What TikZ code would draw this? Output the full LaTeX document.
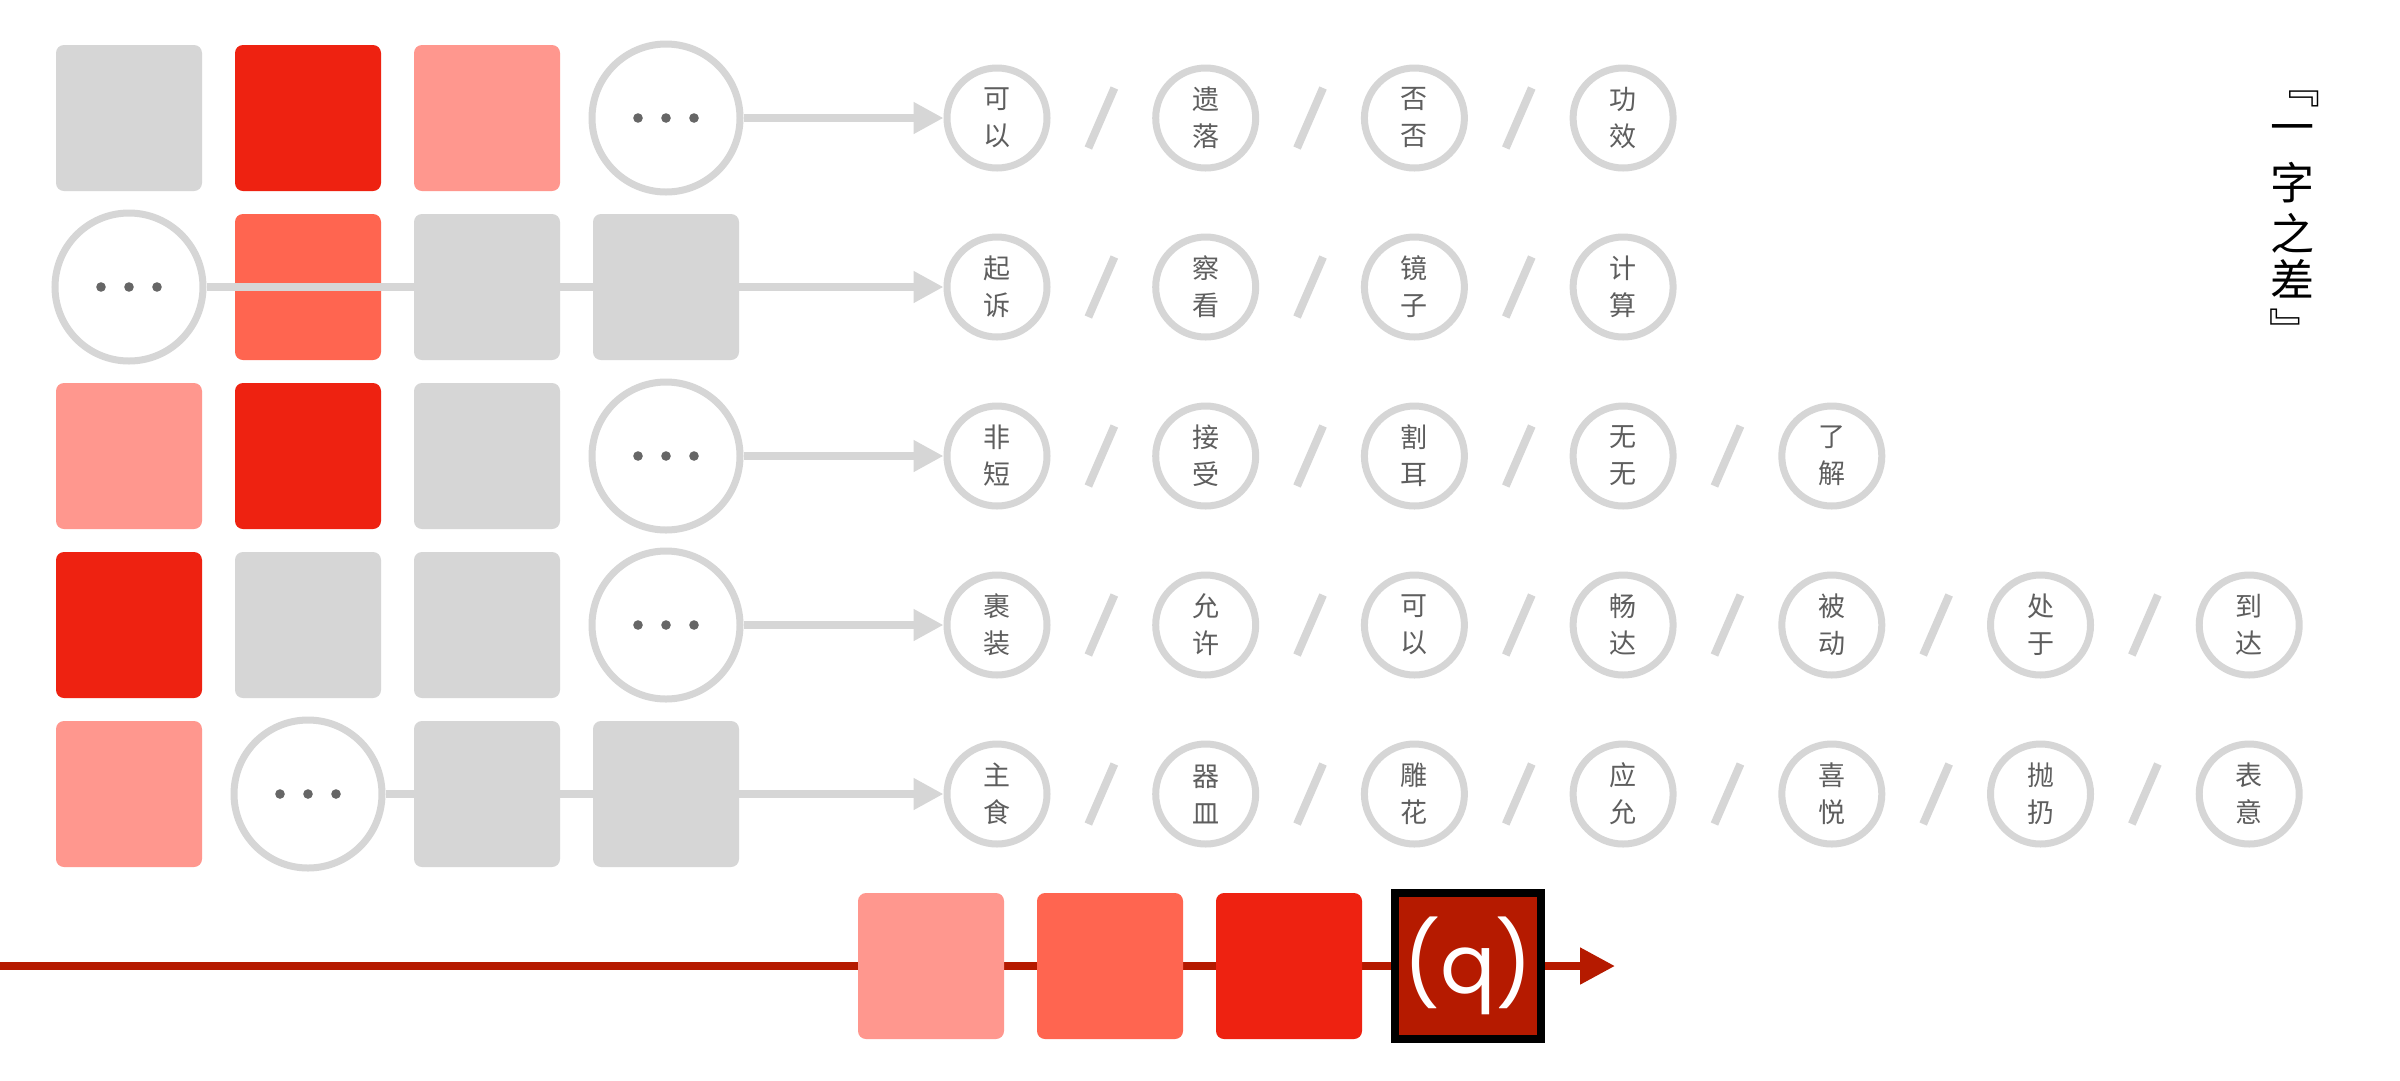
\documentclass[tikz,border=0pt]{standalone}
\usepackage{fontspec}
\newfontfamily\cjk{Noto Sans CJK SC}
\newfontfamily\qfont{Poppins}
\usetikzlibrary{arrows.meta}
\definecolor{lg}{HTML}{D6D6D6}
\definecolor{rd}{HTML}{EE2211}
\definecolor{pk}{HTML}{FF978E}
\definecolor{cr}{HTML}{FF6550}
\definecolor{dk}{HTML}{B51A00}
\definecolor{tg}{HTML}{5E5E5E}
\definecolor{dg}{HTML}{666666}
\begin{document}
\begin{tikzpicture}[x=1pt,y=-1pt,
  sqbox/.style={rectangle, rounded corners=8pt, minimum size=146pt, inner sep=0pt},
  gbox/.style={sqbox, fill=lg},
  rbox/.style={sqbox, fill=rd},
  pbox/.style={sqbox, fill=pk},
  cbox/.style={sqbox, fill=cr},
  dotcirc/.style={circle, draw=lg, line width=7pt, fill=white, minimum size=148pt, inner sep=0pt,
    path picture={\fill[dg] (path picture bounding box.center) ++(-28pt,0pt) circle (4.8pt) ++(28pt,0pt) circle (4.8pt) ++(28pt,0pt) circle (4.8pt);}},
  wcirc/.style={circle, draw=lg, line width=7pt, fill=white, minimum size=100pt, inner sep=0pt,
    font=\cjk\fontsize{27}{37}\selectfont, text=tg, align=center},
  flow/.style={draw=lg, line width=8pt, -{Triangle[length=30pt,width=30pt]}},
  slashline/.style={draw=lg, line width=8pt},
  titlech/.style={font=\cjk\fontsize{44}{44}\selectfont, text=black, inner sep=0pt},
]
\fill[white] (0,0) rectangle (2400,1080);
\useasboundingbox (0,0) rectangle (2400,1080);

% ---------- row 1 ----------
\node[gbox] (s11) at (129,118) {};
\node[rbox] (s12) at (308,118) {};
\node[pbox] (s13) at (487,118) {};
\node[dotcirc] (c14) at (666,118) {};
\foreach \w [count=\i from 0] in {{可\\以},{遗\\落},{否\\否},{功\\效}}
  \node[wcirc] (w1-\i) at ({997+208.7*\i},118) {\w};
\foreach \i in {1,...,3}
  \draw[slashline] ({997+208.7*\i-104.35+13},88) -- ++(-26,60);
\draw[flow] (c14) -- (w1-0);

% ---------- row 2 ----------
\node[dotcirc] (c21) at (129,287) {};
\node[cbox] (s22) at (308,287) {};
\node[gbox] (s23) at (487,287) {};
\node[gbox] (s24) at (666,287) {};
\foreach \w [count=\i from 0] in {{起\\诉},{察\\看},{镜\\子},{计\\算}}
  \node[wcirc] (w2-\i) at ({997+208.7*\i},287) {\w};
\foreach \i in {1,...,3}
  \draw[slashline] ({997+208.7*\i-104.35+13},257) -- ++(-26,60);
\draw[flow] (c21) -- (w2-0);

% ---------- row 3 ----------
\node[pbox] (s31) at (129,456) {};
\node[rbox] (s32) at (308,456) {};
\node[gbox] (s33) at (487,456) {};
\node[dotcirc] (c34) at (666,456) {};
\foreach \w [count=\i from 0] in {{非\\短},{接\\受},{割\\耳},{无\\无},{了\\解}}
  \node[wcirc] (w3-\i) at ({997+208.7*\i},456) {\w};
\foreach \i in {1,...,4}
  \draw[slashline] ({997+208.7*\i-104.35+13},426) -- ++(-26,60);
\draw[flow] (c34) -- (w3-0);

% ---------- row 4 ----------
\node[rbox] (s41) at (129,625) {};
\node[gbox] (s42) at (308,625) {};
\node[gbox] (s43) at (487,625) {};
\node[dotcirc] (c44) at (666,625) {};
\foreach \w [count=\i from 0] in {{裹\\装},{允\\许},{可\\以},{畅\\达},{被\\动},{处\\于},{到\\达}}
  \node[wcirc] (w4-\i) at ({997+208.7*\i},625) {\w};
\foreach \i in {1,...,6}
  \draw[slashline] ({997+208.7*\i-104.35+13},595) -- ++(-26,60);
\draw[flow] (c44) -- (w4-0);

% ---------- row 5 ----------
\node[pbox] (s51) at (129,794) {};
\node[dotcirc] (c52) at (308,794) {};
\node[gbox] (s53) at (487,794) {};
\node[gbox] (s54) at (666,794) {};
\foreach \w [count=\i from 0] in {{主\\食},{器\\皿},{雕\\花},{应\\允},{喜\\悦},{抛\\扔},{表\\意}}
  \node[wcirc] (w5-\i) at ({997+208.7*\i},794) {\w};
\foreach \i in {1,...,6}
  \draw[slashline] ({997+208.7*\i-104.35+13},764) -- ++(-26,60);
\draw[flow] (c52) -- (w5-0);

% ---------- bottom line ----------
\coordinate (bstart) at (0,966);
\coordinate (bend) at (1615,966);
\draw[draw=dk, line width=8pt, -{Triangle[length=35pt,width=35pt]}] (bstart) -- (bend);
\node[pbox] (b1) at (931,966) {};
\node[cbox] (b2) at (1110,966) {};
\node[rbox] (b3) at (1289,966) {};
\node[rectangle, fill=dk, draw=black, line width=8pt, minimum size=146pt, inner sep=0pt,
  text=white, font=\qfont\fontsize{82}{82}\selectfont] (qbox) at (1468,966) {(q)};

% ---------- title ----------
\node[titlech, rotate=-90] (t0) at (2300,86) {『};
\node[titlech] (t1) at (2292,134) {一};
\node[titlech] (t2) at (2292,183) {字};
\node[titlech] (t3) at (2292,233) {之};
\node[titlech] (t4) at (2292,279) {差};
\node[titlech, rotate=-90] (t5) at (2285,329) {』};
\end{tikzpicture}
\end{document}
